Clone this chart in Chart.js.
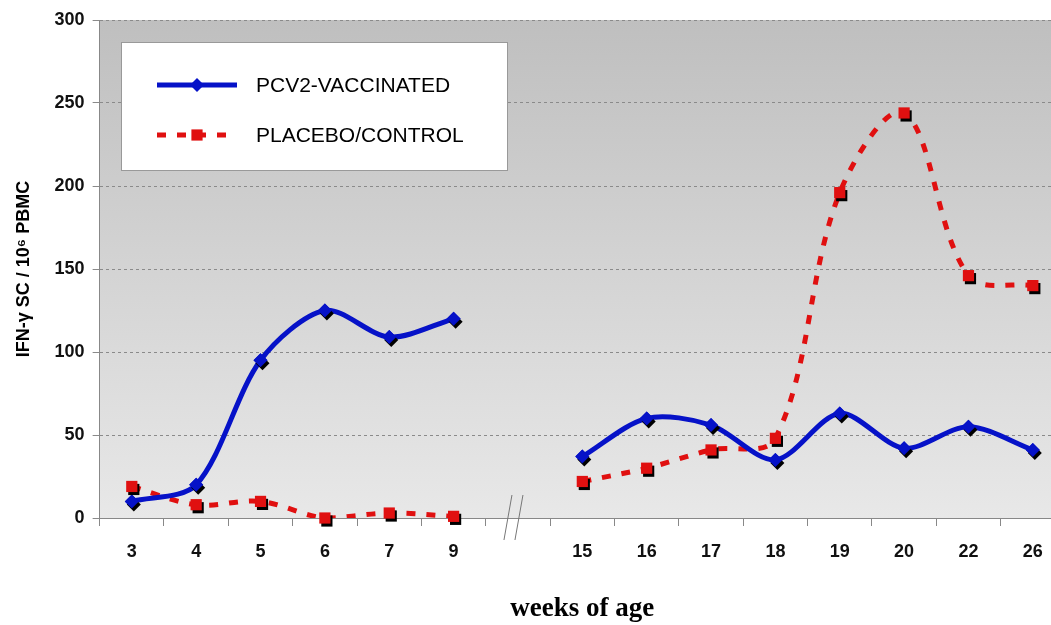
<!DOCTYPE html>
<html>
<head>
<meta charset="utf-8">
<style>
  html, body { margin: 0; padding: 0; background: #fff; overflow: hidden; }
  /* the original plot runs past the right edge of the picture */
  #wrap { width: 1066px; height: 625px; }
</style>
<script src="https://cdn.jsdelivr.net/npm/chart.js@4/dist/chart.umd.min.js"></script>
</head>
<body>
<div id="wrap"><canvas id="chart"></canvas></div>
<script>
// weeks of age (empty slot = axis break between 9 and 15)
const weeks = ['3', '4', '5', '6', '7', '9', '', '15', '16', '17', '18', '19', '20', '22', '26'];
// IFN-gamma SC / 10^6 PBMC
const vaccinated = [10, 20, 95, 125, 109, 120, null, 37, 60, 56, 35, 63, 42, 55, 41];
const placebo = [19, 8, 10, 0, 3, 1, null, 22, 30, 41, 48, 196, 244, 146, 140];
const yTicks = [0, 50, 100, 150, 200, 250, 300];

const BLUE = '#0612c8';
const RED = '#e01010';

// grey gradient behind the plot area
const backgroundPlugin = {
    id: 'plotBackground',
    beforeDraw(chart) {
        const { ctx, chartArea: a } = chart;
        const g = ctx.createLinearGradient(0, a.top, 0, a.bottom);
        g.addColorStop(0, '#bfbfbf');
        g.addColorStop(1, '#e8e8e8');
        ctx.save();
        ctx.fillStyle = g;
        ctx.fillRect(a.left, a.top, a.right - a.left, a.bottom - a.top);
        ctx.restore();
    }
};

function drawMarker(ctx, style, x, y, r, color) {
    ctx.fillStyle = color;
    ctx.beginPath();
    if (style === 'rectRot') {
        ctx.moveTo(x, y - r);
        ctx.lineTo(x + r, y);
        ctx.lineTo(x, y + r);
        ctx.lineTo(x - r, y);
        ctx.closePath();
    } else {
        ctx.rect(x - r * 0.8, y - r * 0.8, r * 1.6, r * 1.6);
    }
    ctx.fill();
}

// black drop shadow under each marker
const shadowPlugin = {
    id: 'markerShadow',
    afterDatasetsDraw(chart) {
        const ctx = chart.ctx;
        chart.data.datasets.forEach((ds, i) => {
            const meta = chart.getDatasetMeta(i);
            meta.data.forEach((pt, j) => {
                if (ds.data[j] === null) return;
                ctx.save();
                drawMarker(ctx, ds.pointStyle, pt.x + 2, pt.y + 3, ds.pointRadius, '#000');
                drawMarker(ctx, ds.pointStyle, pt.x, pt.y, ds.pointRadius, ds.pointBackgroundColor);
                ctx.restore();
            });
        });
    }
};

// "//" break mark on the x axis
const breakPlugin = {
    id: 'axisBreak',
    afterDraw(chart) {
        const { ctx, scales: { x } } = chart;
        const cx = x.getPixelForValue(6);
        const y0 = chart.chartArea.bottom;
        ctx.save();
        ctx.strokeStyle = '#777';
        ctx.lineWidth = 1;
        [-14, -3].forEach(dx => {
            ctx.beginPath();
            ctx.moveTo(cx + dx, y0 + 22);
            ctx.lineTo(cx + dx + 8, y0 - 23);
            ctx.stroke();
        });
        ctx.restore();
    }
};

// boxed legend inside the plot
const legendPlugin = {
    id: 'boxLegend',
    afterDraw(chart) {
        const ctx = chart.ctx;
        ctx.save();
        ctx.fillStyle = '#fff';
        ctx.strokeStyle = '#999';
        ctx.lineWidth = 1;
        ctx.fillRect(121, 42, 387, 129);
        ctx.strokeRect(121.5, 42.5, 386, 128);
        const rows = [85, 135];
        chart.data.datasets.forEach((ds, i) => {
            const y = rows[i];
            ctx.strokeStyle = ds.borderColor;
            ctx.lineWidth = ds.borderWidth;
            ctx.setLineDash(ds.borderDash || []);
            ctx.beginPath();
            ctx.moveTo(157, y);
            ctx.lineTo(237, y);
            ctx.stroke();
            ctx.setLineDash([]);
            drawMarker(ctx, ds.pointStyle, 197, y, ds.pointRadius, ds.pointBackgroundColor);
            ctx.fillStyle = '#000';
            ctx.font = '21px "Liberation Sans", Arial, sans-serif';
            ctx.textBaseline = 'middle';
            ctx.fillText(ds.label, 256, y + 1);
        });
        ctx.restore();
    }
};

const ctx = document.getElementById('chart').getContext('2d');
new Chart(ctx, {
    type: 'line',
    data: {
        labels: weeks,
        datasets: [
            {
                label: 'PCV2-VACCINATED',
                data: vaccinated,
                borderColor: BLUE,
                borderWidth: 5,
                pointStyle: 'rectRot',
                pointRadius: 7,
                pointBackgroundColor: BLUE,
                pointBorderWidth: 0,
                tension: 0.3,
                spanGaps: false
            },
            {
                label: 'PLACEBO/CONTROL',
                data: placebo,
                borderColor: RED,
                borderWidth: 5,
                borderDash: [9, 11],
                pointStyle: 'rect',
                pointRadius: 7,
                pointBackgroundColor: RED,
                pointBorderWidth: 0,
                tension: 0.35,
                spanGaps: false
            }
        ]
    },
    options: {
        responsive: true,
        maintainAspectRatio: false,
        animation: false,
        layout: { autoPadding: false, padding: { top: 20, right: 1, left: 13, bottom: 0 } },
        plugins: {
            legend: { display: false },
            tooltip: { enabled: false }
        },
        scales: {
            x: {
                offset: true,
                afterFit(scale) {
                    scale.paddingLeft = 0;
                    scale.paddingRight = 0;
                },
                grid: {
                    offset: true,
                    drawOnChartArea: false,
                    drawTicks: true,
                    tickLength: 8,
                    color: '#888'
                },
                border: { color: '#888', width: 1 },
                ticks: {
                    color: '#111',
                    padding: 15,
                    font: { family: '"Liberation Sans", Arial, sans-serif', size: 18, weight: 'bold' }
                },
                title: {
                    display: true,
                    text: 'weeks of age',
                    color: '#000',
                    padding: { top: 15, bottom: 0 },
                    font: { family: '"Liberation Serif", "Times New Roman", serif', size: 27, weight: 'bold' }
                }
            },
            y: {
                min: 0,
                max: 300,
                afterBuildTicks(scale) {
                    scale.ticks = yTicks.map(v => ({ value: v }));
                },
                afterFit(scale) {
                    scale.paddingTop = 0;
                },
                grid: {
                    color: '#8a8a8a',
                    tickLength: 7,
                    lineWidth: 1
                },
                border: { color: '#888', width: 1, dash: [3, 3] },
                ticks: {
                    color: '#111',
                    padding: 8,
                    font: { family: '"Liberation Sans", Arial, sans-serif', size: 18, weight: 'bold' }
                },
                title: {
                    display: true,
                    text: 'IFN-γ SC / 10⁶ PBMC',
                    color: '#000',
                    padding: { top: 0, bottom: 12 },
                    font: { family: '"Liberation Sans", Arial, sans-serif', size: 18, weight: 'bold' }
                }
            }
        }
    },
    plugins: [backgroundPlugin, shadowPlugin, breakPlugin, legendPlugin]
});
</script>
</body>
</html>
